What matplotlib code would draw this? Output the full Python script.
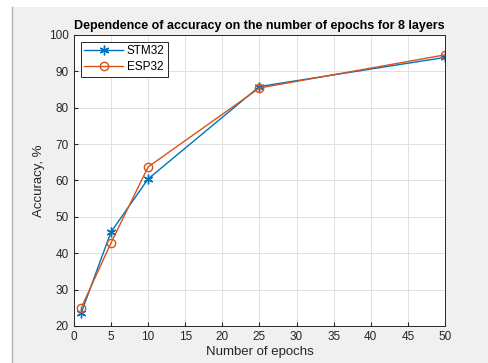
import matplotlib.pyplot as plt
from matplotlib.patches import Rectangle

epochs = [1, 5, 10, 25, 50]
stm32 = [23.6, 45.8, 60.4, 85.8, 93.8]
esp32 = [25.0, 42.8, 63.7, 85.4, 94.5]

plt.rcParams["font.family"] = ["Liberation Sans", "DejaVu Sans"]

fig = plt.figure(figsize=(4.89, 3.63), dpi=100, facecolor="white")
# gray MATLAB figure window area (screenshot has a white margin top/left)
fig.patches.append(Rectangle((12 / 489, 0), 1 - 12 / 489, 1 - 7 / 363,
                             transform=fig.transFigure, facecolor="#f0f0f0",
                             edgecolor="none", zorder=-2))
fig.lines.append(plt.Line2D([12 / 489, 12 / 489], [0, 1 - 7 / 363],
                            transform=fig.transFigure, color="#b0b0b0", linewidth=1,
                            zorder=-1))

ax = fig.add_axes([0.151, 0.102, 0.759, 0.802])

ax.plot(epochs, stm32, color="#0072BD", marker=(6, 2, 0), markersize=7,
        markeredgewidth=1, linewidth=1, label="STM32")
ax.plot(epochs, esp32, color="#D95319", marker="o", markersize=6, markerfacecolor="none",
        linewidth=1, label="ESP32")

ax.set_xlim(0, 50)
ax.set_ylim(20, 100)
ax.set_xticks(range(0, 51, 5))
ax.set_yticks(range(20, 101, 10))
ax.grid(True, color="#e0e0e0", linewidth=0.7)
ax.set_axisbelow(True)
ax.tick_params(direction="in", labelsize=8.5, colors="#262626", length=3, top=False, right=False)
for s in ax.spines.values():
    s.set_color("#262626")
    s.set_linewidth(0.7)

ax.set_xlabel("Number of epochs", fontsize=9.5, color="#262626", labelpad=2)
ax.set_ylabel("Accuracy, %", fontsize=9.5, color="#262626", labelpad=3)
ax.set_title("Dependence of accuracy on the number of epochs for 8 layers",
             fontsize=9, fontweight="bold", pad=4)

leg = ax.legend(loc="upper left", fontsize=8.5, fancybox=False, framealpha=1,
                edgecolor="#262626", borderpad=0.3, labelspacing=0.3, handlelength=3.3,
                handletextpad=0.3, borderaxespad=0.6)
leg.get_frame().set_linewidth(0.7)

fig.savefig("out.png", dpi=100, facecolor=fig.get_facecolor())
